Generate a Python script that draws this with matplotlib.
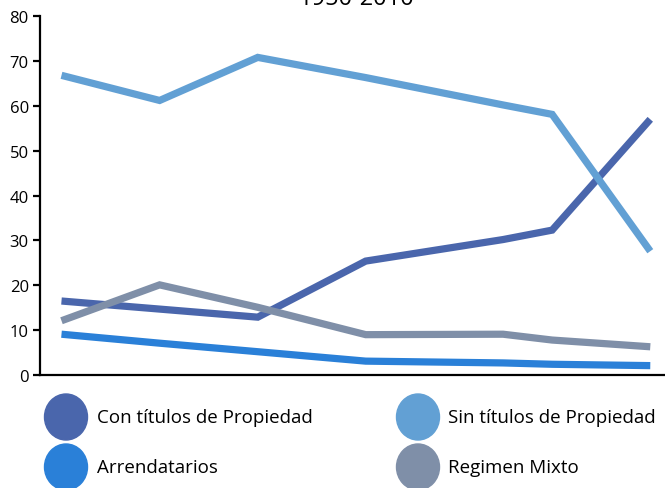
import matplotlib.pyplot as plt
from matplotlib.patches import Ellipse

plt.rcParams['font.family'] = ['Open Sans', 'DejaVu Sans']

# --- Data ---
years = [1950, 1960, 1970, 1981, 1995, 2000, 2010]
con_titulos = [16.5, 14.7, 12.9, 25.4, 30.2, 32.3, 57.0]
sin_titulos = [66.8, 61.2, 70.8, 66.3, 60.2, 58.1, 27.6]
arrendatarios = [9.1, 7.1, 5.2, 3.1, 2.7, 2.4, 2.1]
regimen_mixto = [12.1, 20.1, 15.1, 9.0, 9.1, 7.8, 6.3]

labels = ["Con títulos de Propiedad", "Sin títulos de Propiedad",
          "Arrendatarios", "Regimen Mixto"]
colors = ["#4A66AC", "#62A0D4", "#2A80D8", "#7F8FA8"]
series = [con_titulos, sin_titulos, arrendatarios, regimen_mixto]
yticks = [0, 10, 20, 30, 40, 50, 60, 70, 80]

fig = plt.figure(figsize=(6.65, 4.89), dpi=100)
ax = fig.add_axes([0.060, 0.231, 0.940, 0.734])

# draw order: arrendatarios, con, sin, mixto
for i in [2, 0, 1, 3]:
    ax.plot(years, series[i], color=colors[i], lw=5.2, solid_capstyle='butt',
            solid_joinstyle='miter')

ax.set_xlim(1947.8, 2011.5)
ax.set_ylim(0, 80)
ax.set_yticks(yticks)
ax.set_xticks([])
for s in ['top', 'right']:
    ax.spines[s].set_visible(False)
for s in ['left', 'bottom']:
    ax.spines[s].set_linewidth(1.6)
ax.tick_params(axis='y', length=5, width=1.6, labelsize=12, pad=3)

# title sits mostly above the canvas, as in the original
fig.text(0.537, 0.99, "1950-2010", ha='center', va='baseline', fontsize=17)

# --- Legend with round markers ---
W, H = 665, 489
pos = [(66, 418, 97), (418, 418, 448), (66, 468, 97), (418, 468, 448)]
for (cx, cy, tx), lab, col in zip(pos, labels, colors):
    fig.add_artist(Ellipse((cx / W, 1 - cy / H), 43 / W, 46 / H,
                           transform=fig.transFigure, color=col))
    fig.text(tx / W, 1 - cy / H, lab, ha='left', va='center', fontsize=13.5)

fig.savefig("out.png", dpi=100)
